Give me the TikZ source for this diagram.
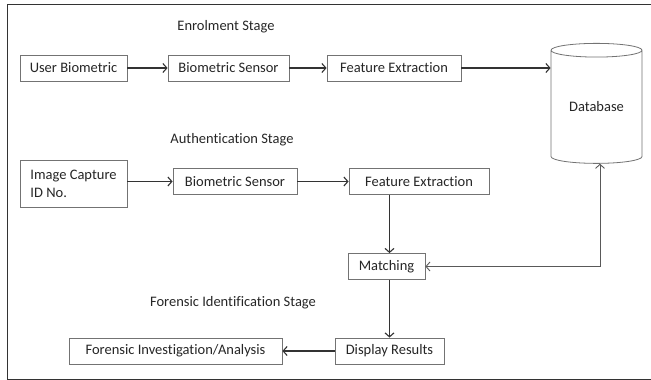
\documentclass[tikz,border=0pt]{standalone}
\usepackage{fontspec}
\setmainfont{Carlito}[Ligatures=NoCommon]
\usepackage{tikz}
\usetikzlibrary{arrows,arrows.meta,shapes}
\usetikzlibrary{positioning}
\tikzstyle{block} = [draw=black!55, line width=0.8pt, rectangle, fill=white, inner sep=4pt,
    minimum height=26pt, font=\fontsize{14.5}{18}\selectfont, text=black!85]
\tikzstyle{stage} = [font=\fontsize{14.5}{18}\selectfont, text=black!85]
\tikzstyle{flow} = [-{Straight Barb[length=4pt,width=9pt]}, black!80, line width=1.1pt]

\begin{document}
\begin{tikzpicture}[x=1pt, y=1pt, node distance=3cm]
  \useasboundingbox (0,0) rectangle (651,-380);
  \draw [black!80, line width=1pt] (652,-4) -- (7,-4) -- (7,-379) -- (652,-379);
  % enrolment
  \node [stage] (enrol) at (226,-27) {Enrolment Stage};
  \node [block, minimum width=107pt] (ub) at (73.5,-68) {User Biometric};
  \node [block, minimum width=121pt, right of=ub, node distance=155pt] (bs1) {Biometric Sensor};
  \node [block, minimum width=134pt, right of=bs1, node distance=165.5pt] (fe1) {Feature Extraction};
  \node [cylinder, shape border rotate=90, aspect=0.25, draw=black!55, line width=0.8pt, fill=white,
    minimum width=91pt, minimum height=120pt, inner sep=0pt, text=black!85,
    font=\fontsize{14.5}{18}\selectfont] (db) at (596.5,-107) {Database};
  % authentication
  \node [stage] (auth) at (232,-140) {Authentication Stage};
  \node [block, minimum width=107pt, minimum height=47pt, align=left] (ic) at (73.5,-183.5) {Image Capture\\ID No.};
  \node [block, minimum width=124pt] (bs2) at (235,-181.5) {Biometric Sensor};
  \node [block, minimum width=140pt, right of=bs2, node distance=184pt] (fe2) {Feature Extraction};
  \node [block, minimum width=77pt] (mt) at (386.5,-266.5) {Matching};
  % forensic
  \node [stage] (foren) at (233,-303) {Forensic Identification Stage};
  \node [block, minimum width=109pt] (ds) at (389.5,-351) {Display Results};
  \node [block, minimum width=213pt, left of=ds, node distance=214pt] (fi) {Forensic Investigation/Analysis};
  \draw [flow] (ub) -- (bs1);
  \draw [flow] (bs1) -- (fe1);
  \draw [flow] (fe1.east) -- (fe1.east -| db.west);
  \draw [flow] (ic.east |- bs2) -- (bs2);
  \draw [flow] (bs2) -- (fe2);
  \draw [flow] (fe2.south -| ds.north) -- (mt.north -| ds.north);
  \draw [flow] (mt.south -| ds.north) -- (ds.north);
  \draw [flow] (ds) -- (fi);
  \draw [{Straight Barb[length=4pt,width=9pt]}-{Straight Barb[length=4pt,width=9pt]}, black!65, line width=0.9pt]
    (mt.east) -| ([xshift=3.5pt]db.south);
\end{tikzpicture}
\end{document}
